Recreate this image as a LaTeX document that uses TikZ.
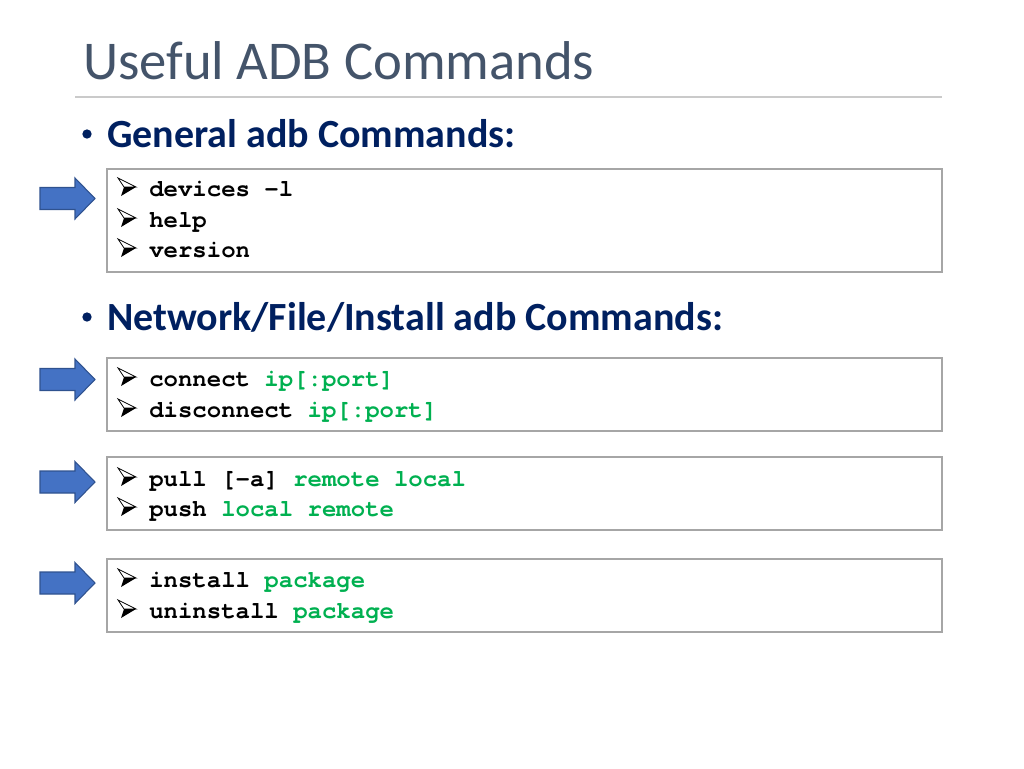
\documentclass[tikz,border=0pt]{standalone}
\usepackage{fontspec}
\setmainfont{Carlito}
\newfontfamily\monofont{TeX Gyre Cursor}

\definecolor{titlegray}{HTML}{44546A}
\definecolor{headnavy}{HTML}{002060}
\definecolor{argreen}{HTML}{00B050}
\definecolor{boxgray}{HTML}{A6A6A6}
\definecolor{arrowblue}{HTML}{4472C4}
\definecolor{arrowedge}{HTML}{2F528F}

\newcommand{\param}[1]{{\color{argreen}#1}}

\tikzset{
	title/.style={anchor=base west,inner sep=0pt,text=titlegray,font=\fontsize{41}{41}\selectfont},
	heading/.style={anchor=base west,inner sep=0pt,text=headnavy,font=\bfseries\fontsize{30}{30}\selectfont},
	bulletdot/.style={circle,fill=headnavy,inner sep=0pt,minimum size=7pt},
	cmdbox/.style={draw=boxgray,line width=1pt},
	cmdline/.style={anchor=base west,inner sep=0pt,font=\monofont\bfseries\fontsize{18}{18}\selectfont},
	bluearrow/.pic={
		\draw[fill=arrowblue,draw=arrowedge,line width=0.8pt]
		(-27.5,-11) -- (7.5,-11) -- (7.5,-20.5) -- (27.5,0) -- (7.5,20.5) -- (7.5,11) -- (-27.5,11) -- cycle;
	},
	dart/.pic={
		\draw[line width=0.6pt,line join=miter] (-9,-9) -- (9,0) -- (-3,0) -- cycle;
		\fill[black] (-3,0) -- (9,0) -- (-6,9) -- cycle;
	}
}

\begin{document}
\begin{tikzpicture}
		[x=0.75pt,y=-0.75pt]
		\useasboundingbox (0,0) rectangle (1024,768);
		
		% title
		\node[title] (title) at (83,79) {Useful ADB Commands};
		\draw[boxgray!60,line width=1pt] (75,97) -- (942,97);
		
		% general commands
		\node[bulletdot] (dot1) at (87,134) {};
		\node[heading] (head1) at (107,147) {General adb Commands:};
		\draw[cmdbox] (107,169) rectangle (942,272);
		\pic at (67.5,198.5) {bluearrow};
		\pic at (127,187) {dart};
		\node[cmdline] (c1) at (149,196) {devices -l};
		\pic at (127,218) {dart};
		\node[cmdline] (c2) at (149,227) {help};
		\pic at (127,248) {dart};
		\node[cmdline] (c3) at (149,257) {version};
		
		% network / file / install
		\node[bulletdot] (dot2) at (87,317) {};
		\node[heading] (head2) at (107,330) {Network/File/Install adb Commands:};
		
		\draw[cmdbox] (107,358) rectangle (942,431);
		\pic at (67.5,379.5) {bluearrow};
		\pic at (127,377) {dart};
		\node[cmdline] (c4) at (149,386) {connect \param{ip[:port]}};
		\pic at (127,408) {dart};
		\node[cmdline] (c5) at (149,417) {disconnect \param{ip[:port]}};
		
		\draw[cmdbox] (107,457) rectangle (942,530);
		\pic at (67.5,482) {bluearrow};
		\pic at (127,477) {dart};
		\node[cmdline] (c6) at (149,486) {pull [-a] \param{remote local}};
		\pic at (127,507) {dart};
		\node[cmdline] (c7) at (149,516) {push \param{local remote}};
		
		\draw[cmdbox] (107,559) rectangle (942,632);
		\pic at (67.5,583) {bluearrow};
		\pic at (127,578) {dart};
		\node[cmdline] (c8) at (149,587) {install \param{package}};
		\pic at (127,609) {dart};
		\node[cmdline] (c9) at (149,618) {uninstall \param{package}};
		
	\end{tikzpicture}
\end{document}
